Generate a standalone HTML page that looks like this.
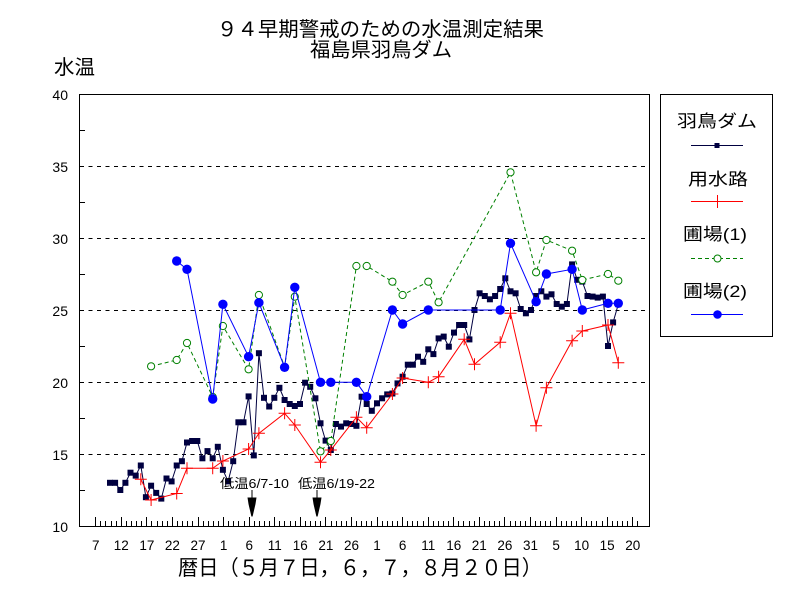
<!DOCTYPE html>
<html><head><meta charset="utf-8">
<style>
html,body{margin:0;padding:0;background:#fff;}
svg{display:block;}
.jp{font-family:"Liberation Sans","Noto Sans CJK JP",sans-serif;}
.num{font-family:"Liberation Sans",sans-serif;}
</style></head>
<body>
<svg width="800" height="600" viewBox="0 0 800 600" xmlns="http://www.w3.org/2000/svg">
<defs>
<marker id="sq" markerUnits="userSpaceOnUse" markerWidth="8" markerHeight="8" refX="4" refY="4" overflow="visible"><rect x="1" y="1" width="6" height="6" fill="#000040"/></marker>
<marker id="pl" markerUnits="userSpaceOnUse" markerWidth="14" markerHeight="14" refX="7" refY="7" overflow="visible"><path d="M1 7H13M7 1V13" stroke="#ff0000" stroke-width="1" fill="none"/></marker>
<marker id="oc" markerUnits="userSpaceOnUse" markerWidth="10" markerHeight="10" refX="5" refY="5" overflow="visible"><circle cx="5" cy="5" r="3.6" fill="#fff" stroke="#008000" stroke-width="1"/></marker>
<marker id="fc" markerUnits="userSpaceOnUse" markerWidth="12" markerHeight="12" refX="6" refY="6" overflow="visible"><circle cx="6" cy="6" r="4.7" fill="#0000ff"/></marker>
</defs>
<rect width="800" height="600" fill="#fff"/>

<!-- titles -->
<text class="jp" x="217" y="36" font-size="20" textLength="327" lengthAdjust="spacingAndGlyphs" fill="#000">９４早期警戒のための水温測定結果</text>
<text class="jp" x="310" y="56.5" font-size="20" textLength="142" lengthAdjust="spacingAndGlyphs" fill="#000">福島県羽鳥ダム</text>
<text class="jp" x="54" y="74" font-size="20" textLength="41" lengthAdjust="spacingAndGlyphs" fill="#000">水温</text>

<!-- grid -->
<g stroke="#000" stroke-width="1" stroke-dasharray="4,4.5" shape-rendering="crispEdges">
<line x1="80" y1="166.5" x2="649" y2="166.5"/>
<line x1="80" y1="238.5" x2="649" y2="238.5"/>
<line x1="80" y1="310.5" x2="649" y2="310.5"/>
<line x1="80" y1="382.5" x2="649" y2="382.5"/>
<line x1="80" y1="454.5" x2="649" y2="454.5"/>
</g>
<!-- plot frame -->
<rect x="79.5" y="94.5" width="570" height="432" fill="none" stroke="#000" stroke-width="1" shape-rendering="crispEdges"/>
<!-- y minor ticks -->
<g stroke="#000" stroke-width="1" shape-rendering="crispEdges">
<line x1="79" y1="130.5" x2="85" y2="130.5"/>
<line x1="79" y1="202.5" x2="85" y2="202.5"/>
<line x1="79" y1="274.5" x2="85" y2="274.5"/>
<line x1="79" y1="346.5" x2="85" y2="346.5"/>
<line x1="79" y1="418.5" x2="85" y2="418.5"/>
<line x1="79" y1="490.5" x2="85" y2="490.5"/>
</g>
<!-- x ticks -->
<path stroke="#000" stroke-width="1" fill="none" shape-rendering="crispEdges" d="M95.5 521v5M100.5 521v5M105.5 521v5M111.5 521v5M116.5 521v5M121.5 521v5M126.5 521v5M131.5 521v5M136.5 521v5M141.5 521v5M146.5 521v5M151.5 521v5M157.5 521v5M162.5 521v5M167.5 521v5M172.5 521v5M177.5 521v5M182.5 521v5M187.5 521v5M192.5 521v5M198.5 521v5M203.5 521v5M208.5 521v5M213.5 521v5M218.5 521v5M223.5 521v5M228.5 521v5M233.5 521v5M238.5 521v5M244.5 521v5M249.5 521v5M254.5 521v5M259.5 521v5M264.5 521v5M269.5 521v5M274.5 521v5M279.5 521v5M284.5 521v5M290.5 521v5M295.5 521v5M300.5 521v5M305.5 521v5M310.5 521v5M315.5 521v5M320.5 521v5M325.5 521v5M331.5 521v5M336.5 521v5M341.5 521v5M346.5 521v5M351.5 521v5M356.5 521v5M361.5 521v5M366.5 521v5M371.5 521v5M377.5 521v5M382.5 521v5M387.5 521v5M392.5 521v5M397.5 521v5M402.5 521v5M407.5 521v5M412.5 521v5M417.5 521v5M423.5 521v5M428.5 521v5M433.5 521v5M438.5 521v5M443.5 521v5M448.5 521v5M453.5 521v5M458.5 521v5M463.5 521v5M469.5 521v5M474.5 521v5M479.5 521v5M484.5 521v5M489.5 521v5M494.5 521v5M499.5 521v5M504.5 521v5M510.5 521v5M515.5 521v5M520.5 521v5M525.5 521v5M530.5 521v5M535.5 521v5M540.5 521v5M545.5 521v5M550.5 521v5M556.5 521v5M561.5 521v5M566.5 521v5M571.5 521v5M576.5 521v5M581.5 521v5M586.5 521v5M591.5 521v5M596.5 521v5M602.5 521v5M607.5 521v5M612.5 521v5M617.5 521v5M622.5 521v5M627.5 521v5M632.5 521v5M637.5 521v5"/>
<path stroke="#000" stroke-width="1" fill="none" shape-rendering="crispEdges" d="M95.5 517v9M121.5 517v9M146.5 517v9M172.5 517v9M198.5 517v9M223.5 517v9M249.5 517v9M274.5 517v9M300.5 517v9M325.5 517v9M351.5 517v9M377.5 517v9M402.5 517v9M428.5 517v9M453.5 517v9M479.5 517v9M504.5 517v9M530.5 517v9M556.5 517v9M581.5 517v9M607.5 517v9M632.5 517v9"/>

<!-- y labels -->
<g class="num" font-size="14" fill="#000" text-anchor="end">
<text x="68" y="100">40</text>
<text x="68" y="172">35</text>
<text x="68" y="244">30</text>
<text x="68" y="316">25</text>
<text x="68" y="388">20</text>
<text x="68" y="460">15</text>
<text x="68" y="532">10</text>
</g>
<!-- x labels -->
<g class="num" font-size="13.5" fill="#000" text-anchor="middle">
<text x="95.7" y="550">7</text>
<text x="121.3" y="550">12</text>
<text x="146.9" y="550">17</text>
<text x="172.4" y="550">22</text>
<text x="198.0" y="550">27</text>
<text x="223.6" y="550">1</text>
<text x="249.2" y="550">6</text>
<text x="274.7" y="550">11</text>
<text x="300.3" y="550">16</text>
<text x="325.9" y="550">21</text>
<text x="351.5" y="550">26</text>
<text x="377.0" y="550">1</text>
<text x="402.6" y="550">6</text>
<text x="428.2" y="550">11</text>
<text x="453.8" y="550">16</text>
<text x="479.3" y="550">21</text>
<text x="504.9" y="550">26</text>
<text x="530.5" y="550">31</text>
<text x="556.1" y="550">5</text>
<text x="581.6" y="550">10</text>
<text x="607.2" y="550">15</text>
<text x="632.8" y="550">20</text>
</g>
<text class="jp" x="178" y="575" font-size="21" textLength="364" lengthAdjust="spacingAndGlyphs" fill="#000">暦日（５月７日，６，７，８月２０日）</text>

<!-- series: 羽鳥ダム -->
<polyline fill="none" stroke="#000040" stroke-width="1" marker-start="url(#sq)" marker-mid="url(#sq)" marker-end="url(#sq)" points="110.0,482.8 115.1,482.8 120.3,490.0 125.4,482.8 130.5,472.7 135.7,475.6 140.8,465.5 145.9,497.2 151.1,485.7 156.2,492.9 161.3,498.6 166.5,478.5 171.6,481.4 176.7,465.5 181.9,461.2 187.0,442.5 192.1,441.0 197.3,441.0 202.4,458.3 207.5,451.1 212.7,458.3 217.8,446.8 222.9,469.8 228.1,481.4 233.2,461.2 238.4,422.3 243.5,422.3 248.6,396.4 253.8,455.4 258.9,353.2 264.0,397.8 269.2,406.5 274.3,397.8 279.4,387.8 284.6,400.0 289.7,404.0 294.8,406.0 300.0,404.0 305.1,382.7 310.2,386.8 315.4,398.3 320.5,423.3 325.6,440.6 330.8,450.0 335.9,424.0 341.0,426.6 346.2,423.3 351.3,424.0 356.4,425.8 361.6,396.7 366.7,404.0 371.8,410.8 377.0,403.3 382.1,398.3 387.2,394.4 392.4,393.5 397.5,383.4 402.6,376.7 407.8,364.7 412.9,364.7 418.0,356.7 423.2,361.8 428.3,349.3 433.4,354.1 438.6,338.4 443.7,336.6 448.8,346.7 454.0,332.6 459.1,325.0 464.2,325.0 469.4,339.4 474.5,310.0 479.6,293.3 484.8,296.0 489.9,299.3 495.1,296.0 500.2,289.0 505.3,278.3 510.5,291.3 515.6,293.3 520.7,309.0 525.9,313.3 531.0,310.0 536.1,296.0 541.3,291.3 546.4,296.6 551.5,294.3 556.7,304.0 561.8,306.7 566.9,304.0 572.1,264.4 577.2,279.8 582.3,281.6 587.5,296.0 592.6,296.6 597.7,297.6 602.9,296.6 608.0,346.0 613.1,322.4 618.3,304.2"/>

<!-- series: 用水路 -->
<polyline fill="none" stroke="#ff0000" stroke-width="1" marker-start="url(#pl)" marker-mid="url(#pl)" marker-end="url(#pl)" points="140.8,479.3 151.1,500 176.7,493.5 187.0,468.3 212.7,468.3 222.9,461 248.6,449 258.9,433.3 284.6,413.3 294.8,425 320.5,462.3 330.8,450 356.4,417.3 366.7,427.7 392.4,394 402.6,378 428.3,382.3 438.6,376.7 464.2,339.3 474.5,364.3 500.2,342.3 510.5,313.3 536.1,425.7 546.4,387.7 572.1,340.7 582.3,331 608.0,325 618.3,362.7"/>

<!-- series: 圃場(1) -->
<polyline fill="none" stroke="#008000" stroke-width="1" stroke-dasharray="4,3" marker-start="url(#oc)" marker-mid="url(#oc)" marker-end="url(#oc)" points="151.1,366.3 176.7,360 187.0,343 212.7,397 222.9,326 248.6,369.3 258.9,295 284.6,367 294.8,296.7 320.5,451.3 330.8,441 356.4,266 366.7,266 392.4,281.7 402.6,295 428.3,281.7 438.6,302.3 510.5,172.3 536.1,272.3 546.4,240 572.1,250.7 582.3,280 608.0,274 618.3,280.7"/>

<!-- series: 圃場(2) -->
<polyline fill="none" stroke="#0000ff" stroke-width="1" marker-start="url(#fc)" marker-mid="url(#fc)" marker-end="url(#fc)" points="176.7,261 187.0,269.3 212.7,399 222.9,304.3 248.6,356.7 258.9,302.7 284.6,367.3 294.8,287.3 320.5,382.3 330.8,382.3 356.4,382.3 366.7,396.7 392.4,310 402.6,324 428.3,310 500.2,310 510.5,243.3 536.1,301.7 546.4,274 572.1,269.3 582.3,310 608.0,303.3 618.3,303.3"/>

<!-- annotations -->
<text class="jp" x="220" y="488" font-size="13" textLength="69" lengthAdjust="spacingAndGlyphs" fill="#000">低温6/7-10</text>
<text class="jp" x="298" y="488" font-size="13" textLength="77" lengthAdjust="spacingAndGlyphs" fill="#000">低温6/19-22</text>
<g fill="#000" stroke="none">
<rect x="251.5" y="490" width="1" height="8"/>
<polygon points="247.5,497.5 256.5,497.5 255.5,504 252.6,516.5 251.4,516.5 248.5,504"/>
<rect x="316.5" y="490" width="1" height="8"/>
<polygon points="312.5,497.5 321.5,497.5 320.5,504 317.6,516.5 316.4,516.5 313.5,504"/>
</g>

<!-- legend -->
<rect x="660.5" y="94.5" width="112" height="242" fill="#fff" stroke="#000" stroke-width="1" shape-rendering="crispEdges"/>
<g class="jp" fill="#000" font-size="17">
<text x="677" y="127" textLength="80" lengthAdjust="spacingAndGlyphs">羽鳥ダム</text>
<text x="688" y="185" textLength="60" lengthAdjust="spacingAndGlyphs">用水路</text>
<text x="683" y="240" textLength="64" lengthAdjust="spacingAndGlyphs">圃場(1)</text>
<text x="683" y="297" textLength="64" lengthAdjust="spacingAndGlyphs">圃場(2)</text>
</g>
<line x1="691" y1="145.5" x2="743" y2="145.5" stroke="#000040" stroke-width="1"/>
<rect x="714.5" y="143" width="5" height="5" fill="#000040"/>
<line x1="691" y1="201.5" x2="743" y2="201.5" stroke="#ff0000" stroke-width="1"/>
<line x1="717.5" y1="195" x2="717.5" y2="208" stroke="#ff0000" stroke-width="1"/>
<line x1="691" y1="258.5" x2="743" y2="258.5" stroke="#008000" stroke-width="1" stroke-dasharray="4,3"/>
<circle cx="717.5" cy="258.5" r="3.5" fill="#fff" stroke="#008000" stroke-width="1"/>
<line x1="691" y1="314.5" x2="743" y2="314.5" stroke="#0000ff" stroke-width="1"/>
<circle cx="717.5" cy="314.5" r="4.3" fill="#0000ff"/>
</svg>
</body></html>
